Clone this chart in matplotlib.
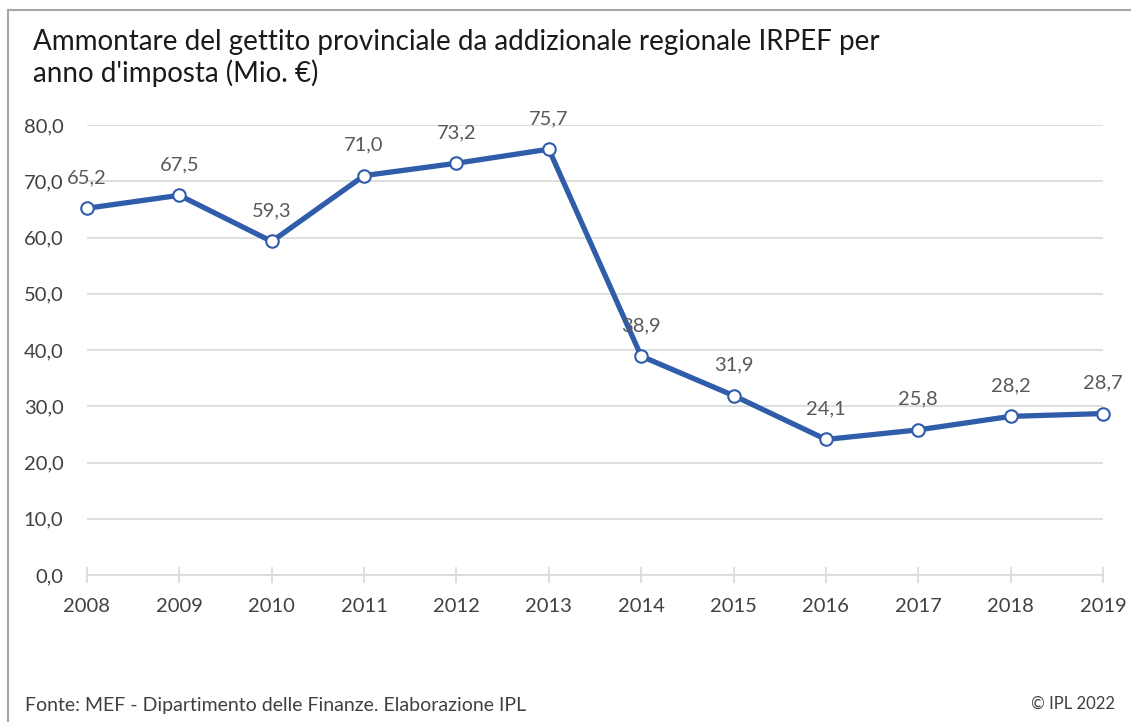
import matplotlib
matplotlib.use("Agg")
import matplotlib.pyplot as plt
from matplotlib.lines import Line2D

years = [2008, 2009, 2010, 2011, 2012, 2013, 2014, 2015, 2016, 2017, 2018, 2019]
values = [65.2, 67.5, 59.3, 71.0, 73.2, 75.7, 38.9, 31.9, 24.1, 25.8, 28.2, 28.7]
yticks = [0, 10, 20, 30, 40, 50, 60, 70, 80]
title = "Ammontare del gettito provinciale da addizionale regionale IRPEF per\nanno d'imposta (Mio. €)"
source = "Fonte: MEF - Dipartimento delle Finanze. Elaborazione IPL"
copyright_txt = "© IPL 2022"

plt.rcParams['font.family'] = ['Lato', 'DejaVu Sans']

W, H = 1131, 722
fig = plt.figure(figsize=(W / 100, H / 100), dpi=100)

def fx(px):
    return px / W

def fy(py):
    return 1 - py / H

# frame
fig.add_artist(Line2D([fx(8), fx(8)], [fy(10), 0], color="#a6a6a6", lw=1.5, transform=fig.transFigure))
fig.add_artist(Line2D([fx(8), 1], [fy(10), fy(10)], color="#a6a6a6", lw=1.5, transform=fig.transFigure))

ax = fig.add_axes([fx(87), fy(575), fx(1103) - fx(87), fy(125) - fy(575)])
ax.set_xlim(years[0], years[-1])
ax.set_ylim(0, 80)

ax.plot(years, values, color="#2F5DAA", lw=3.8, marker="o", ms=9,
        mfc="white", mec="#2F5DAA", mew=1.5, clip_on=False, zorder=5)

for x, v in zip(years, values):
    ax.annotate(f"{v:.1f}".replace(".", ","), (x, v), xytext=(0, 16),
                textcoords="offset points", ha="center", va="bottom",
                fontsize=14.5, color="#595959", zorder=6)

ax.set_yticks(yticks)
ax.set_yticklabels([f"{t:.1f}".replace(".", ",") for t in yticks])
ax.set_xticks(years)
ax.set_xticklabels([str(y) for y in years])
ax.grid(axis="y", color="#d9d9d9", lw=1.2)
ax.set_axisbelow(True)
for s in ["top", "right", "left"]:
    ax.spines[s].set_visible(False)
ax.spines["bottom"].set_color("#d9d9d9")
ax.spines["bottom"].set_linewidth(1.2)
ax.tick_params(axis="y", length=0, labelsize=14.5, labelcolor="#404040", pad=17)
ax.tick_params(axis="x", direction="inout", length=11, width=1.2, color="#d9d9d9",
               labelsize=14.5, labelcolor="#404040", pad=11)

fig.text(fx(33), fy(58), title, fontsize=20, color="#1a1a1a", va="center", ha="left",
         linespacing=1.15)
fig.text(fx(25), fy(706), source, fontsize=14, color="#404040", va="center", ha="left")
fig.text(fx(1115), fy(704), copyright_txt, fontsize=12, color="#404040", va="center", ha="right")

fig.savefig("out.png", dpi=100)
